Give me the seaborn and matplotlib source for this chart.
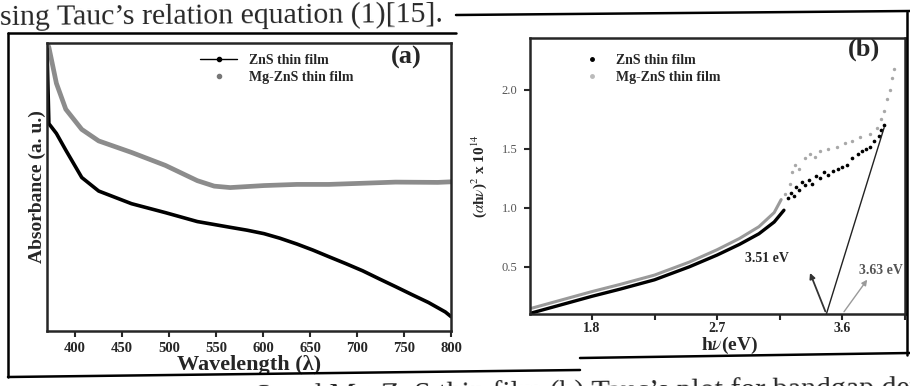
import seaborn as sns
import matplotlib.pyplot as plt
from matplotlib.lines import Line2D

# (a) absorbance spectra, arbitrary units
wl_mg = [370, 372, 380, 390, 407, 425, 460, 496, 530, 548, 565, 601, 636, 670, 706, 741, 786, 800]
abs_mg = [1.0, 0.985, 0.86, 0.77, 0.70, 0.66, 0.62, 0.575, 0.522, 0.503, 0.498, 0.505, 0.509, 0.509, 0.513, 0.517, 0.516, 0.518]
wl_zns = [370, 372, 380, 390, 407, 425, 460, 496, 530, 565, 583, 601, 618, 636, 653, 670, 688,
          706, 723, 741, 758, 776, 794, 800]
abs_zns = [0.98, 0.72, 0.686, 0.628, 0.533, 0.486, 0.442, 0.411, 0.38, 0.36, 0.35, 0.338, 0.322,
           0.302, 0.281, 0.258, 0.234, 0.209, 0.182, 0.154, 0.127, 0.099, 0.066, 0.05]

# (b) Tauc plot
hv_zns = [1.37, 1.8, 2.0, 2.25, 2.5, 2.7, 2.86, 3.0, 3.11, 3.18]
tauc_zns = [0.11, 0.25, 0.31, 0.39, 0.50, 0.60, 0.69, 0.78, 0.88, 0.98]
hv_mg = [1.37, 1.8, 2.0, 2.25, 2.5, 2.7, 2.86, 3.0, 3.11, 3.16]
tauc_mg = [0.15, 0.29, 0.35, 0.43, 0.54, 0.645, 0.74, 0.84, 0.96, 1.07]

hv_zns_pts = [3.21, 3.23, 3.25, 3.27, 3.29, 3.31, 3.33, 3.36, 3.38, 3.41, 3.44, 3.47, 3.50, 3.53,
              3.57, 3.60, 3.63, 3.67, 3.71, 3.74, 3.77, 3.80, 3.83, 3.86, 3.88, 3.90]
tauc_zns_pts = [1.08, 1.13, 1.10, 1.18, 1.15, 1.22, 1.19, 1.24, 1.20, 1.27, 1.25, 1.30, 1.28, 1.31,
                1.33, 1.35, 1.36, 1.42, 1.46, 1.48, 1.50, 1.52, 1.57, 1.61, 1.66, 1.70]
hv_mg_pts = [3.19, 3.22, 3.24, 3.26, 3.29, 3.33, 3.37, 3.40, 3.44, 3.50, 3.56, 3.62, 3.67, 3.73,
             3.80, 3.85, 3.88, 3.90, 3.92, 3.94, 3.96, 3.97]
tauc_mg_pts = [1.12, 1.20, 1.30, 1.36, 1.33, 1.42, 1.46, 1.43, 1.48, 1.50, 1.52, 1.55, 1.57, 1.60,
               1.63, 1.68, 1.75, 1.82, 1.92, 2.00, 2.10, 2.18]

tangent_hv = [3.485, 3.9]
tangent_y = [0.1, 1.68]

wl_ticks = [400, 450, 500, 550, 600, 650, 700, 750, 800]
hv_ticks = [1.8, 2.7, 3.6]
hv_minor = [2.25, 3.15, 4.05]
tauc_ticks = [0.5, 1.0, 1.5, 2.0]

sns.set_style("ticks")
plt.rcParams['font.family'] = ['Liberation Serif', 'DejaVu Serif']
plt.rcParams['mathtext.fontset'] = 'stix'

W, H = 910, 386
fig = plt.figure(figsize=(9.1, 3.86), dpi=100)

def fr(x0, y0, x1, y1):
    return [x0 / W, 1 - y1 / H, (x1 - x0) / W, (y1 - y0) / H]

# ---------- (a)
ax1 = fig.add_axes(fr(47, 43, 451, 331))
sns.lineplot(x=wl_mg, y=abs_mg, ax=ax1, color='#8c8c8c', lw=3.4, sort=False)
sns.lineplot(x=wl_zns, y=abs_zns, ax=ax1, color='black', lw=2.6, sort=False)
ax1.set_xlim(370, 800)
ax1.set_ylim(0, 1.0)
ax1.set_xticks(wl_ticks)
ax1.set_xticklabels([str(t) for t in wl_ticks], fontweight='bold', fontsize=10.5)
ax1.set_yticks([])
ax1.tick_params(axis='x', length=4, width=1.5, pad=4)
for s in ax1.spines.values():
    s.set_linewidth(1.8)
ax1.set_xlabel('Wavelength (λ)', fontsize=16, fontweight='bold', labelpad=0)
ax1.set_ylabel('Absorbance (a. u.)', fontsize=14, fontweight='bold', labelpad=1)
h1 = [Line2D([], [], color='black', lw=1, marker='o', ms=3),
      Line2D([], [], color='#777777', lw=0, marker='o', ms=3)]
ax1.legend(h1, ['ZnS thin film', 'Mg-ZnS thin film'], loc='upper left',
           bbox_to_anchor=(193 / W, 1 - 47 / H), bbox_transform=fig.transFigure,
           frameon=False, handlelength=2.7, handletextpad=0.8, labelspacing=0.3,
           borderpad=0, prop={'size': 10, 'weight': 'bold'})
ax1.text(0.89, 0.951, '(a)', transform=ax1.transAxes, fontsize=19, fontweight='bold',
         ha='center', va='center')

# ---------- (b)
ax2 = fig.add_axes(fr(530, 38, 905, 314))
sns.lineplot(x=hv_mg, y=tauc_mg, ax=ax2, color='#9a9a9a', lw=2.2, sort=False)
sns.lineplot(x=hv_zns, y=tauc_zns, ax=ax2, color='black', lw=2.4, sort=False)
sns.scatterplot(x=hv_mg_pts, y=tauc_mg_pts, ax=ax2, color='#a8a8a8', s=6, marker='o',
                linewidth=0)
sns.scatterplot(x=hv_zns_pts, y=tauc_zns_pts, ax=ax2, color='black', s=7, marker='o',
                linewidth=0)
sns.lineplot(x=tangent_hv, y=tangent_y, ax=ax2, color='#222222', lw=1.0)
ax2.annotate('', xy=(3.36, 0.47), xytext=(3.485, 0.1),
             arrowprops=dict(arrowstyle='-|>', color='#333333', lw=1.3, mutation_scale=8))
ax2.annotate('', xy=(3.79, 0.41), xytext=(3.6, 0.1),
             arrowprops=dict(arrowstyle='-|>', color='#9a9a9a', lw=1.0, mutation_scale=8))
ax2.text(3.06, 0.57, '3.51 eV', fontsize=10, fontweight='bold', ha='center', va='center')
ax2.text(3.72, 0.47, '3.63 eV', fontsize=10, fontweight='bold', ha='left', va='center',
         color='#555555')
ax2.set_xlim(1.355, 4.045)
ax2.set_ylim(0.1, 2.44)
ax2.set_xticks(hv_ticks)
ax2.set_xticks(hv_minor, minor=True)
ax2.set_xticklabels([str(t) for t in hv_ticks], fontweight='bold', fontsize=10)
ax2.tick_params(axis='x', which='both', length=4, width=1.5, pad=2)
ax2.set_yticks(tauc_ticks)
ax2.set_yticklabels([f'{t:.1f}' for t in tauc_ticks], fontsize=9, color='#555555')
ax2.tick_params(axis='y', length=4, width=1.5, pad=5)
for s in ax2.spines.values():
    s.set_linewidth(1.8)
ax2.set_xlabel(r'h$\nu$(eV)', fontsize=14, fontweight='bold', labelpad=-1)
ax2.xaxis.set_label_coords(0.533, -0.075)
ax2.set_ylabel(r'($\alpha$h$\nu$)$^2$ x 10$^{14}$', fontsize=11, fontweight='bold', labelpad=9)
h2 = [Line2D([], [], color='black', lw=0, marker='o', ms=2.5),
      Line2D([], [], color='#bbbbbb', lw=0, marker='o', ms=2.5)]
ax2.legend(h2, ['ZnS thin film', 'Mg-ZnS thin film'], loc='upper left',
           bbox_to_anchor=(577 / W, 1 - 47 / H), bbox_transform=fig.transFigure,
           frameon=False, handlelength=1.2, handletextpad=1.1, labelspacing=0.3,
           borderpad=0, prop={'size': 10, 'weight': 'bold'})
ax2.text(0.89, 0.96, '(b)', transform=ax2.transAxes, fontsize=19, fontweight='bold',
         ha='center', va='center')

# ---------- page frames and surrounding text
def seg(x0, y0, x1, y1, lw=1.8):
    fig.add_artist(Line2D([x0 / W, x1 / W], [1 - y0 / H, 1 - y1 / H], color='black',
                          lw=lw, transform=fig.transFigure))

seg(8, 33, 456, 33)
seg(8, 33, 8, 377)
seg(8, 377, 580, 370)
seg(456, 15, 910, 11)
seg(907, 12, 907, 355)
seg(580, 358, 910, 353)

fig.text(0, 1 - 25 / H, "sing Tauc\u2019s relation equation (1)[15].", fontsize=21.5,
         ha='left', va='baseline', rotation=0.4, rotation_mode='anchor')
fig.text(255 / W, 1 - 405 / H, "S and Mg-ZnS thin film (b) Tauc\u2019s plot for bandgap determination",
         fontsize=21.5, ha='left', va='baseline', rotation=0.7, rotation_mode='anchor')

fig.savefig('out.png', dpi=100)
